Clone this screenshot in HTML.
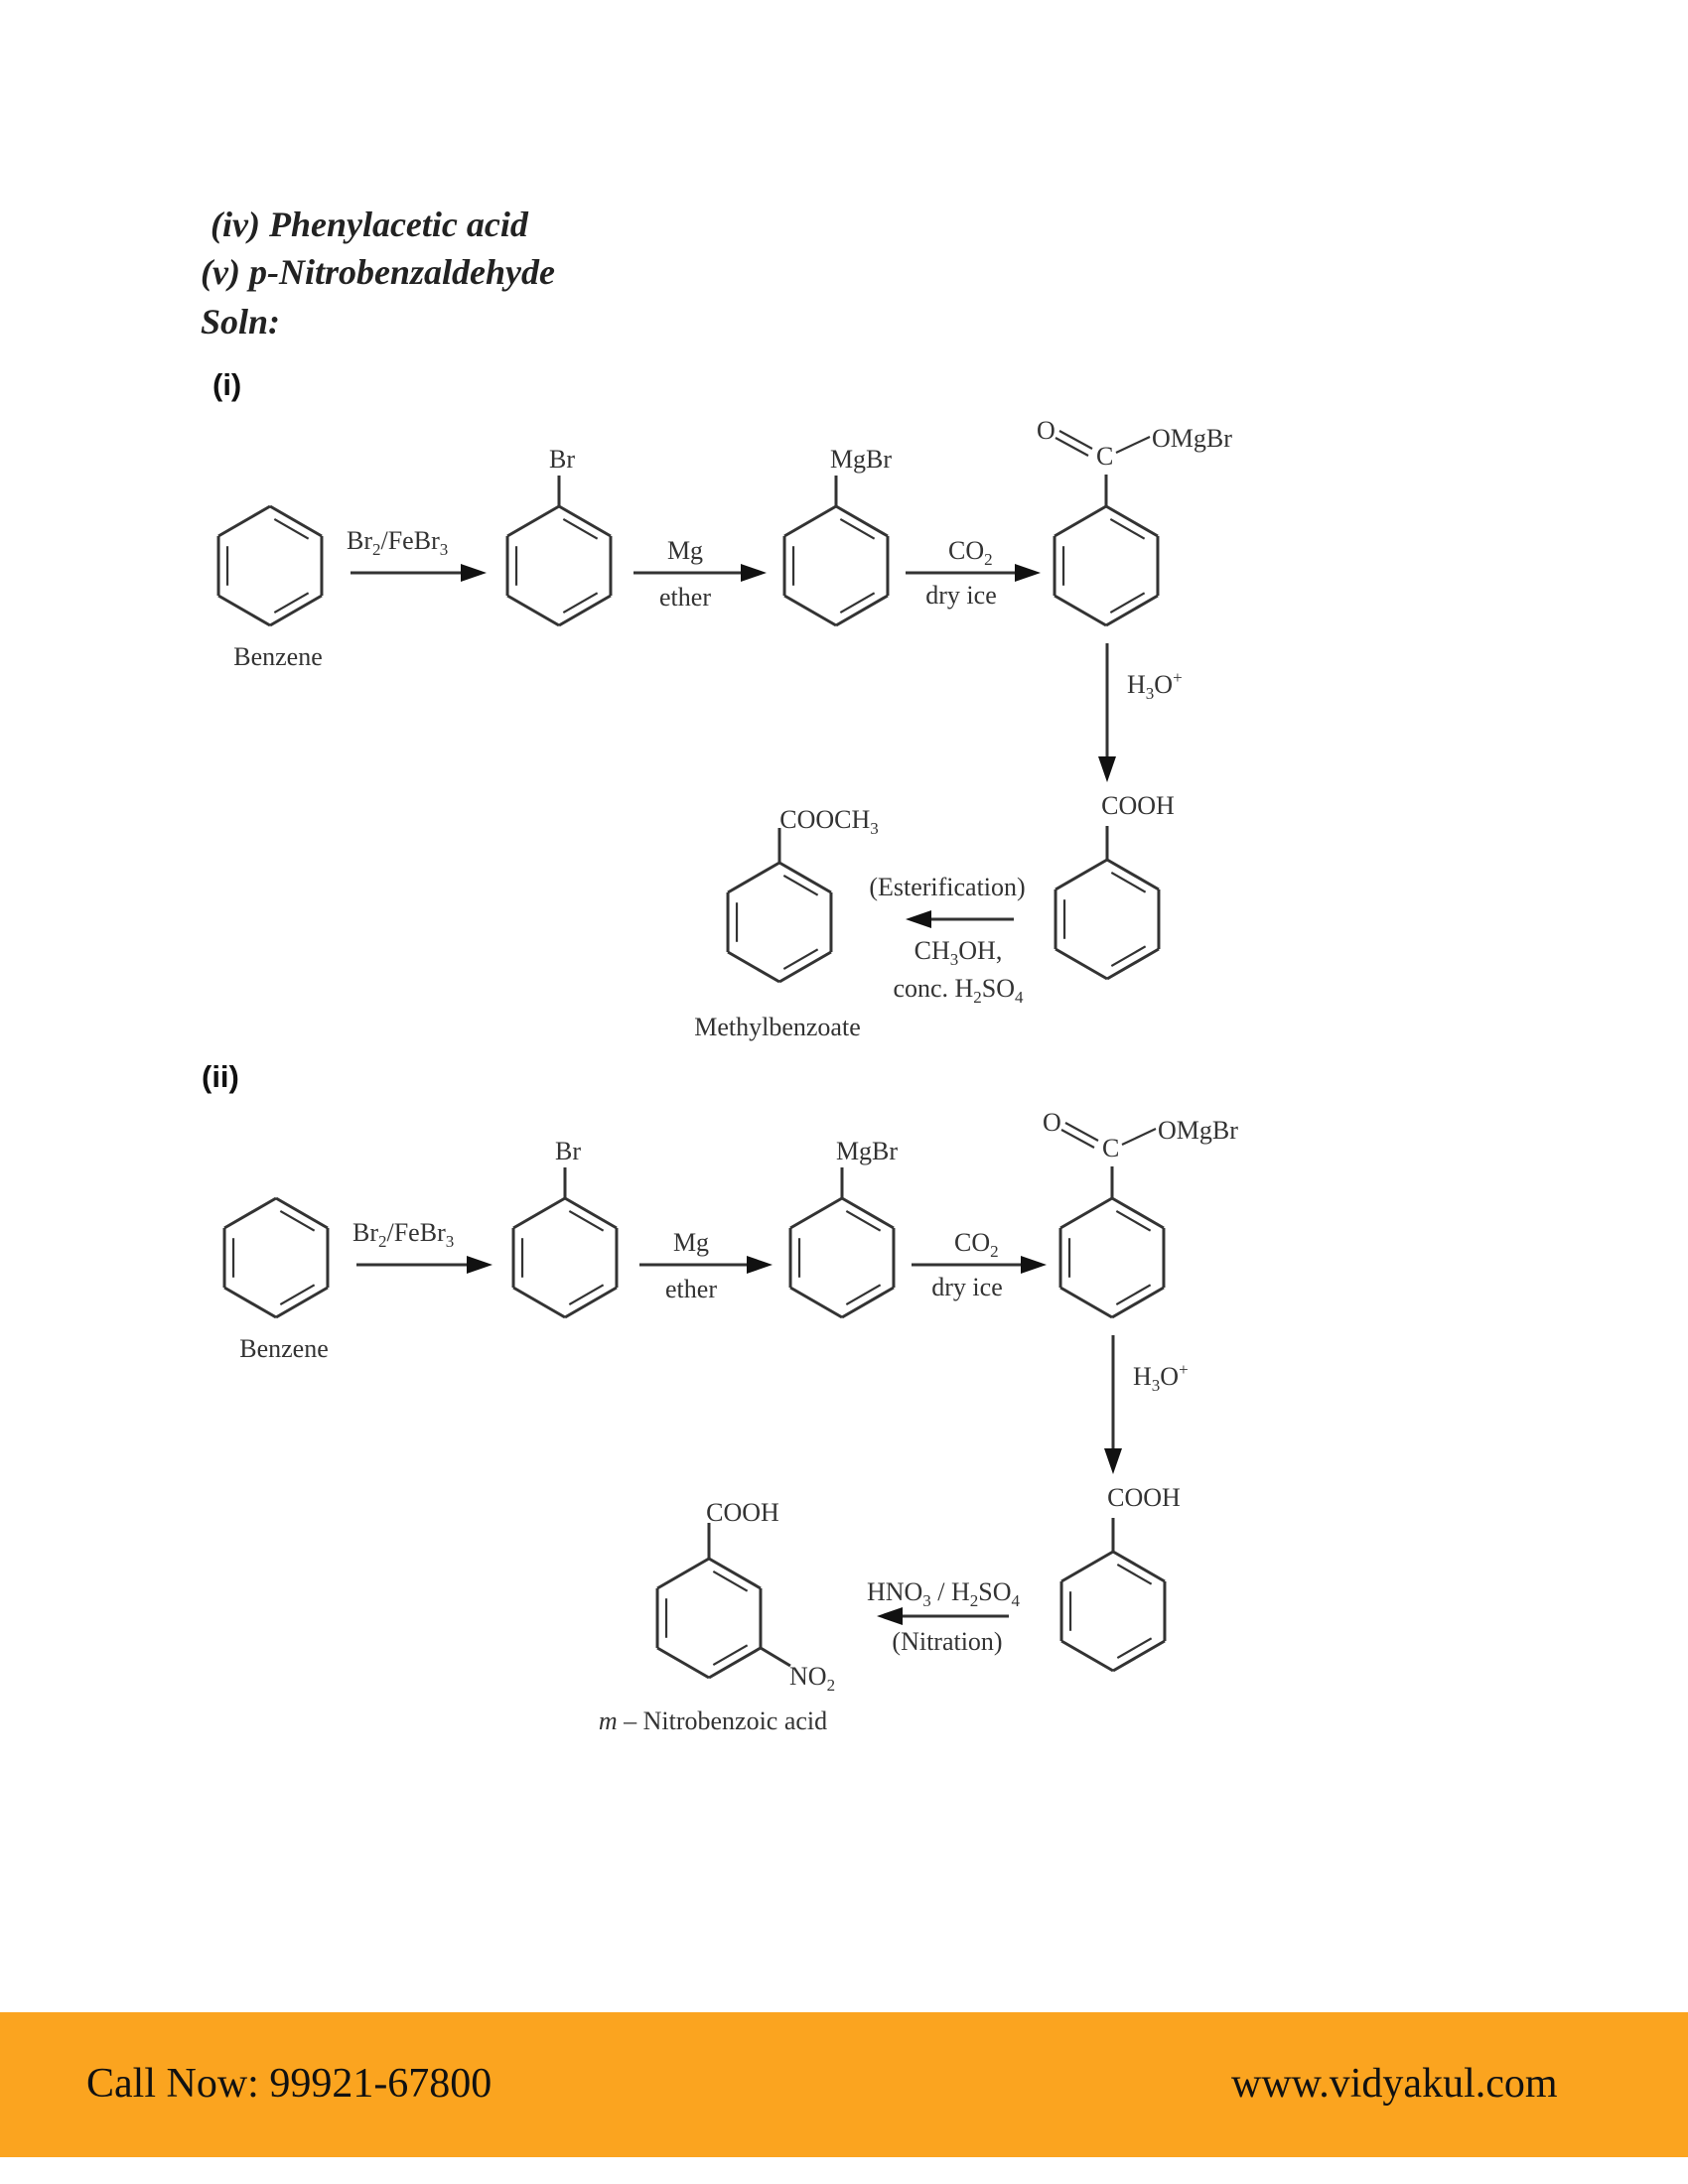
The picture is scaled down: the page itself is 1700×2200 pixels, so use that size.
<!DOCTYPE html>
<html><head><meta charset="utf-8"><style>
html,body{margin:0;padding:0;background:#fff;}
body{width:1700px;height:2200px;position:relative;overflow:hidden;}
.h{position:absolute;font-family:"Liberation Serif",serif;font-weight:bold;font-style:italic;font-size:36px;color:#222;white-space:nowrap;}
.s{position:absolute;font-family:"Liberation Sans",sans-serif;font-weight:bold;font-size:31px;color:#111;}
svg{position:absolute;left:0;top:0;}
svg text{font-family:"Liberation Serif",serif;font-size:26px;fill:#333;}
.band{position:absolute;left:0;top:2027px;width:1700px;height:146px;background:#fba41f;}
.f{position:absolute;font-family:"Liberation Serif",serif;font-size:42px;color:#111;white-space:nowrap;}
</style></head><body>
<div class="h" style="left:212px;top:205px;">(iv) Phenylacetic acid</div>
<div class="h" style="left:202px;top:253px;">(v) p-Nitrobenzaldehyde</div>
<div class="h" style="left:202px;top:303px;">Soln:</div>
<div class="s" style="left:214px;top:370px;">(i)</div>
<div class="s" style="left:203px;top:1067px;">(ii)</div>

<svg id="d" width="1700" height="2000" viewBox="0 0 1700 2000">
<g id="g" stroke="#333" stroke-width="3" fill="none"></g>
<g fill="#111" id="a"></g>
<!-- Row i -->
<text x="280" y="670" text-anchor="middle">Benzene</text>
<text x="349" y="553">Br<tspan font-size="17" dy="6">2</tspan><tspan dy="-6">/FeBr</tspan><tspan font-size="17" dy="6">3</tspan></text>
<text x="566" y="471" text-anchor="middle">Br</text>
<text x="690" y="563" text-anchor="middle">Mg</text>
<text x="690" y="610" text-anchor="middle">ether</text>
<text x="867" y="471" text-anchor="middle">MgBr</text>
<text x="955" y="563">CO<tspan font-size="17" dy="6">2</tspan></text>
<text x="968" y="608" text-anchor="middle">dry ice</text>
<text x="1044" y="442">O</text>
<text x="1104" y="468">C</text>
<text x="1160" y="450">OMgBr</text>
<text x="1135" y="698">H<tspan font-size="17" dy="6">3</tspan><tspan dy="-6">O</tspan><tspan font-size="17" dy="-10">+</tspan></text>
<text x="1146" y="820" text-anchor="middle">COOH</text>
<text x="835" y="834" text-anchor="middle">COOCH<tspan font-size="17" dy="6">3</tspan></text>
<text x="954" y="902" text-anchor="middle">(Esterification)</text>
<text x="965" y="966" text-anchor="middle">CH<tspan font-size="17" dy="6">3</tspan><tspan dy="-6">OH,</tspan></text>
<text x="965" y="1004" text-anchor="middle">conc. H<tspan font-size="17" dy="6">2</tspan><tspan dy="-6">SO</tspan><tspan font-size="17" dy="6">4</tspan></text>
<text x="783" y="1043" text-anchor="middle">Methylbenzoate</text>
<!-- Row ii -->
<g transform="translate(6,697)">
<text x="280" y="670" text-anchor="middle">Benzene</text>
<text x="349" y="553">Br<tspan font-size="17" dy="6">2</tspan><tspan dy="-6">/FeBr</tspan><tspan font-size="17" dy="6">3</tspan></text>
<text x="566" y="471" text-anchor="middle">Br</text>
<text x="690" y="563" text-anchor="middle">Mg</text>
<text x="690" y="610" text-anchor="middle">ether</text>
<text x="867" y="471" text-anchor="middle">MgBr</text>
<text x="955" y="563">CO<tspan font-size="17" dy="6">2</tspan></text>
<text x="968" y="608" text-anchor="middle">dry ice</text>
<text x="1044" y="442">O</text>
<text x="1104" y="468">C</text>
<text x="1160" y="450">OMgBr</text>
<text x="1135" y="698">H<tspan font-size="17" dy="6">3</tspan><tspan dy="-6">O</tspan><tspan font-size="17" dy="-10">+</tspan></text>
<text x="1146" y="820" text-anchor="middle">COOH</text>
</g>
<text x="748" y="1532" text-anchor="middle">COOH</text>
<text x="950" y="1612" text-anchor="middle">HNO<tspan font-size="17" dy="6">3</tspan><tspan dy="-6"> / H</tspan><tspan font-size="17" dy="6">2</tspan><tspan dy="-6">SO</tspan><tspan font-size="17" dy="6">4</tspan></text>
<text x="954" y="1662" text-anchor="middle">(Nitration)</text>
<text x="795" y="1697">NO<tspan font-size="17" dy="6">2</tspan></text>
<text x="718" y="1742" text-anchor="middle"><tspan font-style="italic">m</tspan> – Nitrobenzoic acid</text>
</svg>

<div class="band"></div>
<div class="f" style="left:87px;top:2075px;">Call Now: 99921-67800</div>
<div class="f" style="left:1240px;top:2075px;">www.vidyakul.com</div>

<script>
var g=document.getElementById('g'),a=document.getElementById('a'),NS='http://www.w3.org/2000/svg';
function L(x1,y1,x2,y2,w){var l=document.createElementNS(NS,'line');l.setAttribute('x1',x1);l.setAttribute('y1',y1);l.setAttribute('x2',x2);l.setAttribute('y2',y2);if(w)l.setAttribute('stroke-width',w);g.appendChild(l);}
function P(pts){var p=document.createElementNS(NS,'polygon');p.setAttribute('points',pts);a.appendChild(p);}
function ring(cx,cy,sub,nitro){var r=60,v=[];for(var i=0;i<6;i++){var t=(-90+60*i)*Math.PI/180;v.push([cx+r*Math.cos(t),cy+r*Math.sin(t)]);}
 for(i=0;i<6;i++){var p=v[i],q=v[(i+1)%6];L(p[0],p[1],q[0],q[1]);}
 [[0,1],[2,3],[4,5]].forEach(function(e){var p=v[e[0]],q=v[e[1]];var mx=(p[0]+q[0])/2,my=(p[1]+q[1])/2;var dx=cx-mx,dy=cy-my,d=Math.hypot(dx,dy);var o=9,s=0.17;
  var p2=[p[0]+dx/d*o+(q[0]-p[0])*s,p[1]+dy/d*o+(q[1]-p[1])*s],q2=[q[0]+dx/d*o-(q[0]-p[0])*s,q[1]+dy/d*o-(q[1]-p[1])*s];L(p2[0],p2[1],q2[0],q2[1],2.2);});
 if(sub)L(cx,cy-r,cx,cy-r-sub);
 if(nitro){var p=v[2];L(p[0],p[1],p[0]+30,p[1]+18);}
}
function arrH(x1,x2,y){var dir=x2>x1?1:-1;L(x1,y,x2-dir*22,y);P(x2+','+y+' '+(x2-dir*26)+','+(y-9)+' '+(x2-dir*26)+','+(y+9));}
function arrV(x,y1,y2){L(x,y1,x,y2-22);P(x+','+y2+' '+(x-9)+','+(y2-26)+' '+(x+9)+','+(y2-26));}
function row(dx,dy){
 ring(272+dx,570+dy,0);ring(563+dx,570+dy,31);ring(842+dx,570+dy,31);ring(1114+dx,570+dy,32);
 arrH(353+dx,490+dx,577+dy);arrH(638+dx,772+dx,577+dy);arrH(912+dx,1048+dx,577+dy);
 // carboxylate
 L(1067+dx,434+dy,1100+dx,452+dy,2.2);L(1063+dx,441+dy,1096+dx,459+dy,2.2);L(1124+dx,456+dy,1158+dx,440+dy,2.2);
 arrV(1115+dx,648+dy,788+dy);
 ring(1115+dx,926+dy,34);
}
row(0,0);row(6,697);
ring(785,929,35);arrH(1021,912,926);
ring(714,1630,36,true);arrH(1016,883,1628);
</script>
</body></html>
